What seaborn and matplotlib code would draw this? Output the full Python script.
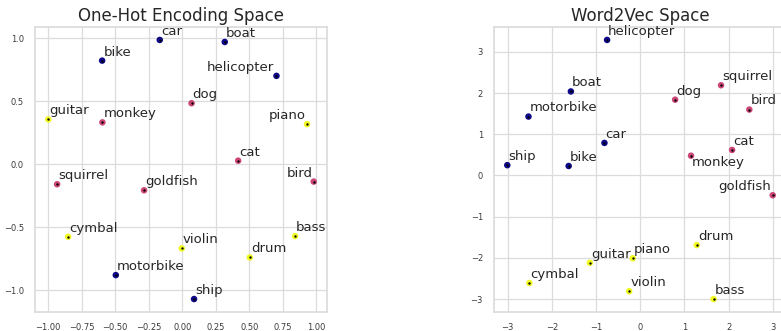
import matplotlib
matplotlib.use("Agg")
import matplotlib.pyplot as plt
import seaborn as sns
import pandas as pd

sns.set_theme(style="whitegrid")

words = ["car", "boat", "bike", "helicopter", "motorbike", "ship",
         "dog", "monkey", "cat", "squirrel", "goldfish", "bird",
         "guitar", "piano", "cymbal", "bass", "violin", "drum"]
groups = ["vehicle"] * 6 + ["animal"] * 6 + ["instrument"] * 6

onehot_x = [-0.168, 0.317, -0.598, 0.703, -0.496, 0.088,
            0.069, -0.596, 0.417, -0.934, -0.285, 0.981,
            -1.000, 0.931, -0.852, 0.842, -0.004, 0.504]
onehot_y = [0.987, 0.971, 0.823, 0.702, -0.879, -1.069,
            0.485, 0.333, 0.029, -0.158, -0.206, -0.137,
            0.356, 0.319, -0.575, -0.570, -0.667, -0.739]

w2v_x = [-0.81, -1.57, -1.62, -0.75, -2.53, -3.01,
         0.79, 1.15, 2.08, 1.83, 3.00, 2.47,
         -1.14, -0.17, -2.51, 1.66, -0.25, 1.28]
w2v_y = [0.79, 2.04, 0.23, 3.29, 1.43, 0.25,
         1.84, 0.48, 0.62, 2.19, -0.48, 1.60,
         -2.12, -2.01, -2.61, -3.00, -2.81, -1.69]

cmap = plt.get_cmap("plasma")
palette = {"vehicle": cmap(0.0), "animal": cmap(0.5), "instrument": cmap(1.0)}

# label placement: (dx, dy) in points and horizontal/vertical alignment
default_place = (0.8, 1.5, "left", "bottom")
onehot_place = {
    "helicopter": (-2, 1.5, "right", "bottom"),
    "piano": (-1, 1.5, "right", "bottom"),
    "bird": (-1, 1.5, "right", "bottom"),
}
w2v_place = {
    "monkey": (0.8, 0, "left", "top"),
    "goldfish": (-1, 1.5, "right", "bottom"),
}

fig = plt.figure(figsize=(7.81, 3.31), dpi=100)
ax1 = fig.add_axes([35 / 781, 19 / 331, 292 / 781, 285 / 331])
ax2 = fig.add_axes([494 / 781, 19 / 331, 292 / 781, 285 / 331])


def draw(ax, xs, ys, title, places):
    df = pd.DataFrame({"x": xs, "y": ys, "word": words, "group": groups})
    sns.scatterplot(data=df, x="x", y="y", hue="group", palette=palette,
                    s=22, linewidth=0, legend=False, ax=ax, zorder=3)
    ax.scatter(df["x"], df["y"], s=0.5, color="black", zorder=4)
    for _, r in df.iterrows():
        dx, dy, ha, va = places.get(r["word"], default_place)
        ax.annotate(r["word"], (r["x"], r["y"]), xytext=(dx, dy),
                    textcoords="offset points", ha=ha, va=va,
                    fontsize=9.5, color="#262626", zorder=5)
    ax.set_title(title, fontsize=12, color="#262626", pad=4)
    ax.set_xlabel("")
    ax.set_ylabel("")
    ax.tick_params(labelsize=6, pad=2, colors="#3a3a3a")
    ax.grid(True, color="#dcdcdc", linewidth=0.9)
    for sp in ax.spines.values():
        sp.set_color("#dcdcdc")


draw(ax1, onehot_x, onehot_y, "One-Hot Encoding Space", onehot_place)
draw(ax2, w2v_x, w2v_y, "Word2Vec Space", w2v_place)

fig.savefig("out.png", dpi=100)
